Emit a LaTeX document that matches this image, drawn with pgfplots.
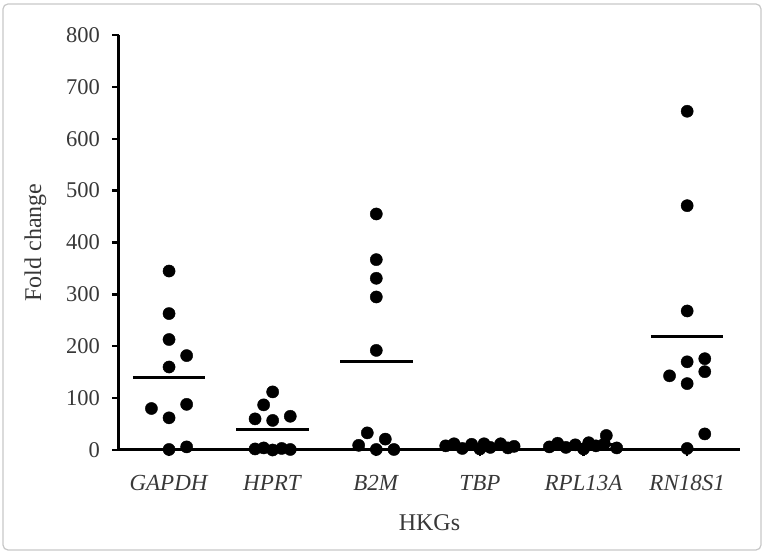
\documentclass[border=0pt]{standalone}
\usepackage{fontspec}
\setmainfont{Liberation Serif}
\usepackage{pgfplots}
\pgfplotsset{compat=1.18}
\begin{document}
\begin{tikzpicture}[x=1pt,y=1pt]
\begin{axis}[
  scale only axis, width=621pt, height=415pt,
  xmin=-0.483, xmax=5.51, ymin=0, ymax=800,
  axis x line*=bottom, axis y line*=left,
  axis line style={line width=3pt, black},
  separate axis lines,
  xtick={0,1,2,3,4,5},
  xticklabels={\textit{GAPDH},\textit{HPRT},\textit{B2M},\textit{TBP},\textit{RPL13A},\textit{RN18S1}},
  ytick={0,100,...,800},
  tick align=outside, major tick length=6.5pt,
  tick style={line width=2.4pt, black},
  /pgf/number format/assume math mode=true,
  ticklabel style={font=\fontsize{22.5}{26}\selectfont, text=black!78},
  xticklabel style={font=\fontsize{23}{27}\selectfont, yshift=-15pt},
  yticklabel style={xshift=-9pt},
  label style={font=\fontsize{24}{28}\selectfont, text=black!78},
  xlabel={HKGs}, ylabel={Fold change},
  xlabel style={yshift=-17pt},
  ylabel style={yshift=13pt},
  clip=false,
]
\coordinate (O) at (rel axis cs:0,0);
% GAPDH
\addplot[only marks, mark=*, mark size=6.1pt, black] coordinates {
(0,345) (0,263) (0,213) (0.17,182) (0,160) (-0.17,80) (0.17,88) (0,62) (0.17,6) (0,1)};
% HPRT
\addplot[only marks, mark=*, mark size=6.1pt, black] coordinates {
(1,112) (0.913,87) (0.83,60) (1,57) (1.17,65) (0.83,2) (0.913,4) (1,0) (1.087,3) (1.17,1)};
% B2M
\addplot[only marks, mark=*, mark size=6.1pt, black] coordinates {
(2,455) (2,367) (2,331) (2,295) (2,192) (1.913,33) (2.087,21) (1.83,9) (2,1) (2.17,1)};
% TBP
\addplot[only marks, mark=*, mark size=6.1pt, black] coordinates {
(2.67,8) (2.75,12) (2.83,3) (2.92,11) (3,2) (3.04,12) (3.1,5) (3.2,12) (3.27,4) (3.33,7)};
% RPL13A
\addplot[only marks, mark=*, mark size=6.1pt, black] coordinates {
(3.67,6) (3.75,13) (3.83,5) (3.92,10) (4,2) (4.05,14) (4.12,8) (4.2,12) (4.22,28) (4.32,4)};
% RN18S1
\addplot[only marks, mark=*, mark size=6.1pt, black] coordinates {
(5,653) (5,471) (5,268) (5,170) (5.17,176) (5.17,151) (4.83,143) (5,128) (5.17,31) (5,3)};
% means
\addplot[line width=3pt, black] coordinates {(-0.35,140) (0.35,140)};
\addplot[line width=3pt, black] coordinates {(0.65,39) (1.35,39)};
\addplot[line width=3pt, black] coordinates {(1.65,170) (2.35,170)};
\addplot[line width=3pt, black] coordinates {(2.65,8) (3.35,8)};
\addplot[line width=3pt, black] coordinates {(3.65,10) (4.35,10)};
\addplot[line width=3pt, black] coordinates {(4.65,219) (5.35,219)};
\end{axis}
\pgfresetboundingbox
\path[use as bounding box] ([shift={(-119,-103)}]O) rectangle ([shift={(646,450)}]O);
\draw[black!22, line width=1.2pt, rounded corners=5pt] ([shift={(-116,-100)}]O) rectangle ([shift={(642,446)}]O);
\end{tikzpicture}
\end{document}
